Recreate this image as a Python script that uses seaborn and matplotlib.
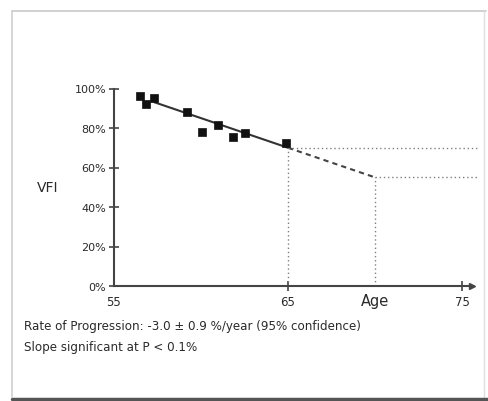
import matplotlib
matplotlib.use("Agg")
import matplotlib.pyplot as plt
import seaborn as sns
import pandas as pd
from matplotlib.lines import Line2D

# ---- data ----
ages = [56.5, 56.85, 57.3, 59.2, 60.05, 60.95, 61.85, 62.5, 64.9]
vfi = [96, 92, 95, 88, 78, 81.5, 75.5, 77.5, 72.5]
fit_age = [57.3, 65]
fit_vfi = [93.1, 70]
proj_age = [65, 70]
proj_vfi = [70, 55]
yticks = [0, 20, 40, 60, 80, 100]
ytick_labels = ["0%", "20%", "40%", "60%", "80%", "100%"]
xticks = [55, 65, 70, 75]
xtick_labels = ["55", "65", "Age", "75"]
note1 = "Rate of Progression: -3.0 \u00b1 0.9 %/year (95% confidence)"
note2 = "Slope significant at P < 0.1%"

sns.set_style("white")
plt.rcParams['font.family'] = ['DejaVu Sans']

W, H = 488, 402
fig = plt.figure(figsize=(W / 100, H / 100), dpi=100)

# axes placement in pixels
left_px, bottom_px = 114, 287
px_per_yr, px_per_pct = 17.4, 1.975
xmin, xmax = 55, 76.3
ymin, ymax = 0, 106
ax = fig.add_axes([left_px / W, (H - bottom_px) / H,
                   (xmax - xmin) * px_per_yr / W, (ymax - ymin) * px_per_pct / H])
ax.set_xlim(xmin, xmax)
ax.set_ylim(ymin, ymax)

ink = "#2a2a2a"
pts = pd.DataFrame({"age": ages, "vfi": vfi})
fit = pd.DataFrame({"age": fit_age, "vfi": fit_vfi})
proj = pd.DataFrame({"age": proj_age, "vfi": proj_vfi})

sns.lineplot(data=fit, x="age", y="vfi", ax=ax, color="#333333", lw=1.5)
sns.lineplot(data=proj, x="age", y="vfi", ax=ax, color="#444444", lw=1.5,
             linestyle=(0, (2.5, 2)))
sns.scatterplot(data=pts, x="age", y="vfi", ax=ax, marker="s", s=38,
                color="#111111", edgecolor="#111111", zorder=5)

# guide lines (dotted)
dot = dict(color="#808080", lw=1.0, linestyle=(0, (1, 2)), clip_on=False)
ax.plot([proj_age[0], proj_age[0]], [0, proj_vfi[0]], **dot)
ax.plot([proj_age[1], proj_age[1]], [0, proj_vfi[1]], **dot)
ax.plot([proj_age[0], 76.0], [proj_vfi[0], proj_vfi[0]], **dot)
ax.plot([proj_age[1], 76.0], [proj_vfi[1], proj_vfi[1]], **dot)

# axes styling
for s in ["top", "right"]:
    ax.spines[s].set_visible(False)
ax.spines["left"].set_bounds(0, 100)
ax.spines["bottom"].set_bounds(55, 75.5)
for s in ["left", "bottom"]:
    ax.spines[s].set_color("#444444")
    ax.spines[s].set_linewidth(1.5)
ax.plot([75.6], [0], marker=">", color="#444444", ms=5, clip_on=False)

ax.set_yticks(yticks)
ax.set_yticklabels(ytick_labels)
ax.set_xticks(xticks)
ax.set_xticklabels(xtick_labels)
ax.tick_params(axis="y", left=True, direction="inout", length=7, width=1.2,
               color="#444444", labelsize=8, labelcolor=ink, pad=2)
ax.tick_params(axis="x", bottom=True, direction="inout", length=7, width=1.2,
               color="#444444", labelsize=8.5, labelcolor=ink, pad=3)
xt = ax.get_xticklabels()
xt[2].set_fontsize(10.5)
xt[2].set_y(0.012)
xt[0].set_x(55.3)
ax.xaxis.get_major_ticks()[0].tick1line.set_visible(False)
ax.xaxis.get_major_ticks()[2].tick1line.set_visible(False)
ax.set_xlabel("")
ax.set_ylabel("")
ax.set_facecolor("none")

fig.text(48 / W, 1 - 188 / H, "VFI", fontsize=10, color=ink, ha="center", va="center")
fig.text(24 / W, 1 - 327 / H, note1, fontsize=8.6, color=ink, ha="left", va="center")
fig.text(24 / W, 1 - 348 / H, note2, fontsize=8.6, color=ink, ha="left", va="center")

# figure frame
def fl(x0, y0, x1, y1, c, lw):
    fig.add_artist(Line2D([x0 / W, x1 / W], [1 - y0 / H, 1 - y1 / H],
                          color=c, lw=lw, transform=fig.transFigure))

fl(12, 12, 486, 12, "#c8c8c8", 1.2)
fl(12, 12, 12, 398, "#d0d0d0", 1.2)
fl(484, 12, 484, 398, "#e0e0e0", 1.0)
fl(12, 399.5, 488, 399.5, "#555555", 2.5)

fig.savefig("out.png", dpi=100)
